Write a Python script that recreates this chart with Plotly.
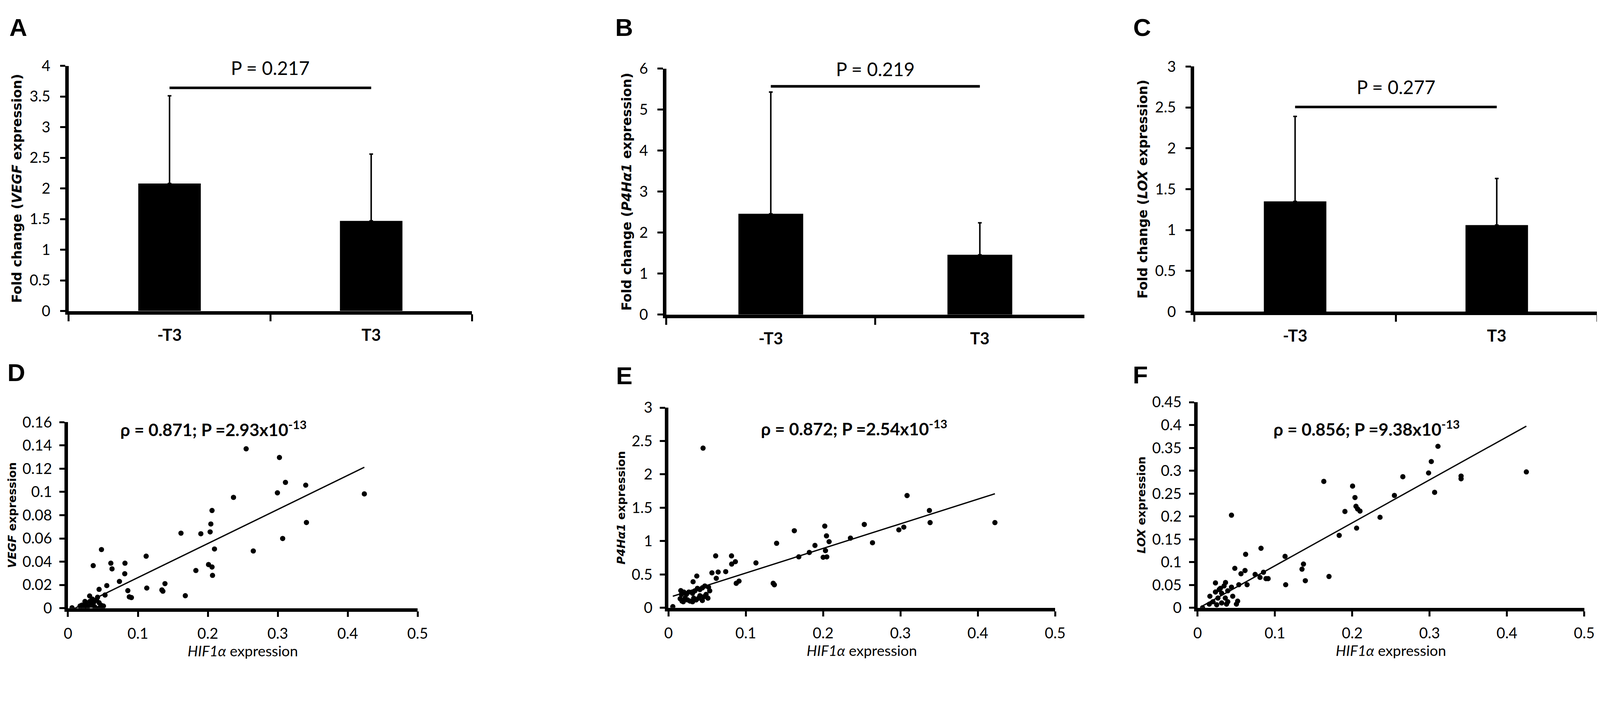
# Fold change bars (top row) and HIF1a correlation scatters (bottom row)
import plotly.graph_objects as go

# ---- data ----
groups = ["-T3", "T3"]

vegf_fold = [2.08, 1.47]
vegf_err = [1.43, 1.09]
p4h_fold = [2.46, 1.46]
p4h_err = [2.97, 0.78]
lox_fold = [1.35, 1.06]
lox_err = [1.04, 0.57]

bar_pvals = ["0.217", "0.219", "0.277"]
bar_pline = [3.64, 5.57, 2.505]      # height of the comparison line
bar_ptext_y = [3.97, 5.99, 2.75]     # height of the P label

hif_d = [0.0058, 0.0173, 0.0199, 0.0225, 0.0243, 0.0264, 0.0278, 0.031, 0.0313, 0.0331,
         0.0349, 0.0366, 0.0384, 0.041, 0.0423, 0.0445, 0.0451, 0.0472, 0.0507, 0.0445,
         0.053, 0.0555, 0.0361, 0.0479, 0.0613, 0.063, 0.0815, 0.0812, 0.0736, 0.0856,
         0.0877, 0.0907, 0.1118, 0.1127, 0.1343, 0.1357, 0.1387, 0.1616, 0.1678,
         0.2548, 0.3024, 0.311, 0.340, 0.2995, 0.4238, 0.2367, 0.206, 0.2043, 0.2033,
         0.341, 0.19, 0.307, 0.2095, 0.265, 0.201, 0.206, 0.2067, 0.1829]
vegf_d = [0.0003, 0.0018, 0.0026, 0.001, 0.0058, 0.0031, 0.001, 0.0105, 0.0058, 0.0026,
          0.0078, 0.0047, 0.001, 0.0068, 0.0094, 0.0047, 0.0003, 0.0026, 0.0018, 0.0162,
          0.0113, 0.0194, 0.0366, 0.0504, 0.0387, 0.0338, 0.0387, 0.0296, 0.023, 0.0151,
          0.0097, 0.0091, 0.0447, 0.0173, 0.0157, 0.0146, 0.0211, 0.0645, 0.0107,
          0.1371, 0.1296, 0.1082, 0.1058, 0.0992, 0.0983, 0.0953, 0.084, 0.0724, 0.0656,
          0.0737, 0.064, 0.0599, 0.0509, 0.0492, 0.0375, 0.0354, 0.0282, 0.0324]

hif_e = [0.0056, 0.0159, 0.0151, 0.0175, 0.0191, 0.0215, 0.0247, 0.0279, 0.0311, 0.0326,
         0.0358, 0.039, 0.0406, 0.0438, 0.0454, 0.0486, 0.051, 0.0533, 0.0518, 0.047,
         0.0438, 0.0406, 0.0374, 0.0342, 0.0311, 0.0263, 0.0231, 0.0199, 0.0167,
         0.0318, 0.0366, 0.0562, 0.0618, 0.0642, 0.074, 0.061, 0.0815, 0.0817, 0.0865,
         0.0876, 0.0912, 0.1131, 0.1398, 0.1354, 0.1369, 0.1627, 0.1685, 0.0447,
         0.3085, 0.3374, 0.3383, 0.4221, 0.2532, 0.2021, 0.2979, 0.3043, 0.2353, 0.2043,
         0.2077, 0.2638, 0.1894, 0.203, 0.1821, 0.2, 0.2047]
p4h_e = [0.018, 0.258, 0.136, 0.1, 0.091, 0.145, 0.118, 0.1, 0.091, 0.145,
         0.118, 0.145, 0.182, 0.109, 0.164, 0.2, 0.145, 0.255, 0.309, 0.327,
         0.3, 0.273, 0.291, 0.255, 0.218, 0.236, 0.2, 0.236, 0.2,
         0.391, 0.476, 0.524, 0.442, 0.536, 0.542, 0.778, 0.778, 0.655, 0.691,
         0.367, 0.4, 0.673, 0.967, 0.367, 0.345, 1.155, 0.764, 2.393,
         1.682, 1.458, 1.277, 1.277, 1.249, 1.224, 1.168, 1.209, 1.044, 1.078,
         0.991, 0.975, 0.935, 0.857, 0.829, 0.757, 0.763]

hif_f = [0.0064, 0.0438, 0.082, 0.0621, 0.1131, 0.0481, 0.0613, 0.0561, 0.0744, 0.0852,
         0.0807, 0.0884, 0.0912, 0.1369, 0.135, 0.1393, 0.1699, 0.1139, 0.064, 0.0533,
         0.0231, 0.0361, 0.1632, 0.0159, 0.0231, 0.0295, 0.0342, 0.0438, 0.0311, 0.039,
         0.0454, 0.0518, 0.0502, 0.0263, 0.0199, 0.0151, 0.0358, 0.039, 0.0311, 0.0247,
         0.0374, 0.0279,
         0.3108, 0.3022, 0.2987, 0.3407, 0.3407, 0.4251, 0.2654, 0.2004, 0.3065, 0.2545,
         0.2035, 0.2048, 0.2069, 0.21, 0.1905, 0.2359, 0.2056, 0.1831]
lox_f = [0.0, 0.2027, 0.1303, 0.117, 0.1125, 0.0864, 0.0816, 0.0745, 0.0731, 0.0777,
         0.0665, 0.0638, 0.0638, 0.0957, 0.0846, 0.0593, 0.0686, 0.0505, 0.0505, 0.0505,
         0.0545, 0.0553, 0.2766, 0.0253, 0.0346, 0.0426, 0.0479, 0.0452, 0.0319, 0.0372,
         0.0253, 0.0146, 0.008, 0.0213, 0.0133, 0.008, 0.0213, 0.0133, 0.0106, 0.0066,
         0.008, 0.0399,
         0.3534, 0.3201, 0.2951, 0.2883, 0.2823, 0.2974, 0.2869, 0.2664, 0.2527, 0.2459,
         0.2413, 0.2222, 0.2163, 0.2117, 0.2108, 0.1981, 0.1744, 0.1585]

# linear trendlines (slope, intercept) as drawn in the figure
trend_d = (0.293, -0.003)
trend_e = (3.69, 0.152)
trend_f = (0.94, -0.002)

rho_texts = ["ρ = 0.871; P =2.93x10<sup>-13</sup>",
             "ρ = 0.872; P =2.54x10<sup>-13</sup>",
             "ρ = 0.856; P =9.38x10<sup>-13</sup>"]
rho_pos = [(0.208, 0.1546), (0.240, 2.70), (0.2186, 0.393)]

# the page shows the figure slightly enlarged and offset, so lay it out in
# reference pixels and convert
S, OFF = 1.046, 8
WF, HF = round(4317 / S), round(1798 / S)


def pz(v):
    return v / S


def ipz(v):
    return int(round(v / S))


def xdom(a, b):
    return [(a / S - OFF) / WF, (b / S - OFF) / WF]


def ydom(top, bottom):
    return [1 - (bottom / S - OFF) / HF, 1 - (top / S - OFF) / HF]


TICK_FONT = dict(family="Lato, Open Sans, sans-serif", size=pz(40), color="black")
TITLE_FONT = dict(family="DejaVu Sans, Verdana, sans-serif", size=pz(35), color="black", weight="bold")
AX = dict(showline=True, linewidth=pz(9), linecolor="black", ticks="outside",
          tickwidth=pz(5), tickcolor="black", showgrid=False, zeroline=False)

fig = go.Figure()

# ---- top row: bar charts ----
bar_sets = [
    (vegf_fold, vegf_err, "Fold change (<i>VEGF</i> expression)", 4, (174, 1264), (154, 829)),
    (p4h_fold, p4h_err, "Fold change (<i>P4Hα1</i> expression)", 6, (1789, 2919), (162, 839)),
    (lox_fold, lox_err, "Fold change (<i>LOX</i> expression)", 3, (3216, 4306), (156, 831)),
]
for i, (vals, errs, ytitle, ymax, xpx, ypx) in enumerate(bar_sets):
    n = i + 1
    xa, ya = f"x{n}", f"y{n}"
    fig.add_trace(go.Bar(
        x=groups, y=vals, width=[0.31, 0.31], marker=dict(color="black", line=dict(width=0)),
        error_y=dict(type="data", symmetric=False, array=errs, arrayminus=[0, 0],
                     color="black", thickness=pz(4), width=pz(5)),
        xaxis=xa, yaxis=ya, showlegend=False))
    fig.add_trace(go.Scatter(
        x=groups, y=[bar_pline[i], bar_pline[i]], mode="lines",
        line=dict(color="black", width=pz(7)), xaxis=xa, yaxis=ya, showlegend=False))
    fig.add_annotation(x=0.5, y=bar_ptext_y[i], xref=xa, yref=ya, text="P = " + bar_pvals[i],
                       showarrow=False, font=dict(family="Lato, sans-serif", size=pz(50), color="black"))
    fig.update_layout(**{
        f"xaxis{n}": dict(AX, domain=xdom(*xpx), anchor=ya, type="category",
                          tickson="boundaries", ticklen=pz(18),
                          tickfont=dict(family="Lato, sans-serif", size=pz(44), color="black", weight="bold"),
                          ticklabelstandoff=ipz(18)),
        f"yaxis{n}": dict(AX, domain=ydom(*ypx), anchor=xa, range=[0, ymax],
                          dtick=0.5 if ymax < 5 else 1, ticklen=pz(14),
                          tickfont=TICK_FONT, ticklabelstandoff=ipz(18),
                          title=dict(text=ytitle, font=TITLE_FONT, standoff=pz(14))),
    })

# ---- bottom row: scatter plots ----
scatter_sets = [
    (hif_d, vegf_d, trend_d, "<i>VEGF</i> expression", 0.16, 0.02, (172, 1117), (1135, 1647)),
    (hif_e, p4h_e, trend_e, "<i>P4Hα1</i> expression", 3, 0.5, (1795, 2840), (1095, 1646)),
    (hif_f, lox_f, trend_f, "<i>LOX</i> expression", 0.45, 0.05, (3225, 4270), (1080, 1646)),
]
for i, (xs, ys, trend, ytitle, ymax, dy, xpx, ypx) in enumerate(scatter_sets):
    n = i + 4
    xa, ya = f"x{n}", f"y{n}"
    fig.add_trace(go.Scatter(
        x=xs, y=ys, mode="markers", marker=dict(color="black", size=pz(14)),
        xaxis=xa, yaxis=ya, showlegend=False))
    x0, x1 = min(xs), max(xs)
    fig.add_trace(go.Scatter(
        x=[x0, x1], y=[trend[0] * x0 + trend[1], trend[0] * x1 + trend[1]], mode="lines",
        line=dict(color="black", width=pz(3.5)), xaxis=xa, yaxis=ya, showlegend=False))
    fig.add_annotation(x=rho_pos[i][0], y=rho_pos[i][1], xref=xa, yref=ya, text=rho_texts[i],
                       showarrow=False,
                       font=dict(family="Lato, sans-serif", size=pz(46), color="black", weight="bold"))
    fig.update_layout(**{
        f"xaxis{n}": dict(AX, domain=xdom(*xpx), anchor=ya, range=[0, 0.5], dtick=0.1,
                          ticklen=pz(14), tickfont=TICK_FONT, ticklabelstandoff=ipz(10),
                          title=dict(text="<i>HIF1α</i> expression", standoff=pz(12),
                                     font=dict(family="Lato, sans-serif", size=pz(39), color="black"))),
        f"yaxis{n}": dict(AX, domain=ydom(*ypx), anchor=xa, range=[0, ymax], dtick=dy,
                          ticklen=pz(14), tickfont=TICK_FONT, ticklabelstandoff=ipz(12),
                          title=dict(text=ytitle, standoff=pz(12),
                                     font=dict(family="DejaVu Sans, Verdana, sans-serif", size=pz(30),
                                               color="black", weight="bold"))),
    })

# ---- panel letters ----
letters = [("A", 38, 48), ("B", 1675, 48), ("C", 3075, 48),
           ("D", 33, 998), ("E", 1675, 1007), ("F", 3070, 1005)]
for lab, lx, ly in letters:
    fig.add_annotation(x=(lx / S - OFF) / WF, y=1 - (ly / S - OFF) / HF, xref="paper", yref="paper",
                       text="<b>" + lab + "</b>", showarrow=False, xanchor="center", yanchor="middle",
                       font=dict(family="Liberation Sans, Arial, sans-serif", size=pz(66), color="black"))

fig.update_layout(width=WF, height=HF, margin=dict(l=0, r=0, t=0, b=0),
                  paper_bgcolor="white", plot_bgcolor="white", showlegend=False)

fig.write_html("out.html")
